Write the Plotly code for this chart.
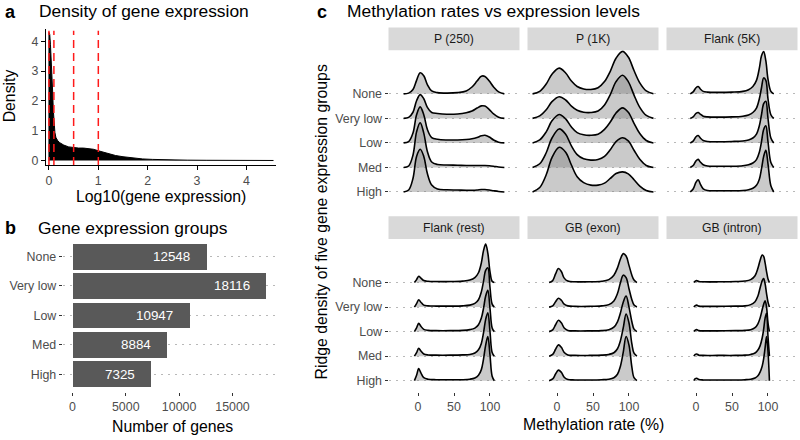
import plotly.graph_objects as go

W, H = 800, 440
FONT = "Liberation Sans, Arial, sans-serif"

# ---------------- Panel a: density of log10 gene expression ----------------
expr_log10 = [0, 0, 0.015, 0.03, 0.048, 0.062, 0.075, 0.088, 0.1, 0.12, 0.14, 0.18, 0.22, 0.3,
              0.4, 0.5, 0.6, 0.7, 0.8, 0.9, 1.0, 1.1, 1.2, 1.35, 1.5, 1.7, 1.9, 2.1, 2.4, 2.8,
              3.2, 3.6, 4.0, 4.55]
expr_density = [0, 4.3, 4.25, 3.9, 3.4, 2.9, 2.3, 1.7, 1.25, 0.95, 0.78, 0.66, 0.6, 0.52,
                0.46, 0.43, 0.42, 0.42, 0.41, 0.38, 0.33, 0.28, 0.23, 0.17, 0.13, 0.085, 0.055,
                0.04, 0.025, 0.015, 0.01, 0.008, 0.006, 0.004]
thresholds = [0, 0.1, 0.5, 1.0]
a_xticks = [0, 1, 2, 3, 4]
a_yticks = [0, 1, 2, 3, 4]

# ---------------- Panel b: gene expression groups ----------------
groups = ["None", "Very low", "Low", "Med", "High"]
gene_counts = [12548, 18116, 10947, 8884, 7325]
b_xticks = [0, 5000, 10000, 15000]

# ---------------- Panel c: ridge densities of methylation rate ----------------
regions = ["P (250)", "P (1K)", "Flank (5K)", "Flank (rest)", "GB (exon)", "GB (intron)"]
group_rank = [4, 3, 2, 1, 0]          # ridge position: None on top, High at bottom
c_xticks = [0, 50, 100]

p250_x = [-20, -13, -7, -2, 3, 8, 13, 19, 27, 40, 55, 67, 75, 82, 88, 93, 99, 105, 112, 120]
p250_none = [0.0, 0.03, 0.18, 0.55, 0.86, 0.74, 0.38, 0.12, 0.05, 0.03, 0.05, 0.12, 0.28, 0.52, 0.72, 0.71, 0.52, 0.28, 0.08, 0.0]
p250_verylow = [0.0, 0.04, 0.25, 0.72, 0.97, 0.8, 0.45, 0.24, 0.2, 0.17, 0.18, 0.23, 0.3, 0.42, 0.51, 0.5, 0.36, 0.18, 0.05, 0.0]
p250_low = [0.0, 0.05, 0.4, 1.15, 1.47, 1.15, 0.55, 0.22, 0.15, 0.12, 0.12, 0.14, 0.17, 0.22, 0.29, 0.31, 0.24, 0.12, 0.03, 0.0]
p250_med = [0.0, 0.06, 0.5, 1.45, 1.82, 1.4, 0.65, 0.22, 0.12, 0.1, 0.09, 0.08, 0.08, 0.08, 0.08, 0.08, 0.07, 0.05, 0.02, 0.0]
p250_high = [0.0, 0.08, 0.55, 1.45, 1.74, 1.45, 0.75, 0.28, 0.12, 0.09, 0.08, 0.07, 0.07, 0.08, 0.1, 0.1, 0.08, 0.05, 0.02, 0.0]

p1k_x = [-34, -24, -15, -7, 3, 12, 20, 28, 37, 47, 57, 66, 74, 82, 91, 99, 107, 115, 124, 134]
p1k_none = [0.0, 0.1, 0.4, 0.8, 1.05, 0.85, 0.52, 0.3, 0.2, 0.18, 0.25, 0.5, 0.92, 1.45, 1.73, 1.5, 0.95, 0.45, 0.12, 0.0]
p1k_verylow = [0.0, 0.1, 0.35, 0.68, 0.88, 0.75, 0.5, 0.33, 0.25, 0.24, 0.3, 0.55, 0.97, 1.5, 1.76, 1.5, 0.95, 0.45, 0.12, 0.0]
p1k_low = [0.0, 0.12, 0.45, 0.9, 1.16, 0.98, 0.65, 0.42, 0.33, 0.31, 0.35, 0.55, 0.85, 1.22, 1.43, 1.25, 0.8, 0.38, 0.1, 0.0]
p1k_med = [0.0, 0.15, 0.6, 1.2, 1.57, 1.35, 0.88, 0.52, 0.35, 0.3, 0.32, 0.45, 0.72, 1.05, 1.21, 1.08, 0.7, 0.33, 0.08, 0.0]
p1k_high = [0.0, 0.18, 0.7, 1.4, 1.82, 1.62, 1.1, 0.62, 0.38, 0.28, 0.28, 0.36, 0.55, 0.75, 0.82, 0.74, 0.5, 0.24, 0.06, 0.0]

f5k_x = [-8, -4, 0, 3, 6, 10, 16, 30, 50, 65, 73, 79, 84, 88, 91, 94, 97, 100, 104, 108]
f5k_none = [0.0, 0.08, 0.25, 0.3, 0.2, 0.1, 0.07, 0.06, 0.07, 0.1, 0.17, 0.3, 0.55, 1.05, 1.55, 1.72, 1.35, 0.6, 0.1, 0.0]
f5k_verylow = [0.0, 0.06, 0.2, 0.24, 0.17, 0.09, 0.06, 0.05, 0.06, 0.09, 0.14, 0.24, 0.42, 0.8, 1.25, 1.65, 1.55, 0.8, 0.15, 0.0]
f5k_low = [0.0, 0.07, 0.25, 0.3, 0.2, 0.1, 0.06, 0.05, 0.06, 0.08, 0.12, 0.2, 0.36, 0.7, 1.15, 1.6, 1.7, 1.0, 0.2, 0.0]
f5k_med = [0.0, 0.08, 0.27, 0.33, 0.22, 0.11, 0.06, 0.05, 0.05, 0.07, 0.11, 0.18, 0.32, 0.62, 1.05, 1.55, 1.7, 1.05, 0.2, 0.0]
f5k_high = [0.0, 0.12, 0.4, 0.5, 0.32, 0.13, 0.06, 0.05, 0.05, 0.06, 0.09, 0.15, 0.27, 0.52, 0.95, 1.45, 1.7, 1.15, 0.25, 0.0]

frest_x = [-5, -2, 1, 4, 8, 14, 25, 45, 62, 72, 79, 84, 88, 91, 94, 97, 100, 103, 106]
frest_none = [0.0, 0.12, 0.26, 0.18, 0.08, 0.05, 0.04, 0.04, 0.06, 0.1, 0.2, 0.4, 0.8, 1.3, 1.57, 1.2, 0.45, 0.05, 0.0]
frest_verylow = [0.0, 0.14, 0.3, 0.2, 0.08, 0.05, 0.04, 0.04, 0.05, 0.08, 0.15, 0.3, 0.62, 1.05, 1.5, 1.6, 0.8, 0.12, 0.0]
frest_low = [0.0, 0.15, 0.34, 0.22, 0.09, 0.05, 0.04, 0.04, 0.05, 0.08, 0.14, 0.28, 0.55, 0.95, 1.45, 1.68, 0.95, 0.15, 0.0]
frest_med = [0.0, 0.14, 0.32, 0.21, 0.09, 0.05, 0.04, 0.04, 0.05, 0.07, 0.13, 0.26, 0.52, 0.95, 1.5, 1.77, 1.0, 0.15, 0.0]
frest_high = [0.0, 0.22, 0.49, 0.32, 0.12, 0.06, 0.04, 0.04, 0.04, 0.06, 0.11, 0.22, 0.45, 0.88, 1.45, 1.8, 1.05, 0.18, 0.0]

exon_x = [-11, -6, -2, 2, 6, 10, 15, 25, 45, 62, 72, 79, 84, 88, 92, 96, 100, 104, 107, 111]
exon_none = [0.0, 0.08, 0.35, 0.57, 0.45, 0.18, 0.06, 0.03, 0.03, 0.05, 0.12, 0.3, 0.6, 0.95, 1.18, 1.08, 0.7, 0.3, 0.1, 0.0]
exon_verylow = [0.0, 0.05, 0.22, 0.36, 0.28, 0.12, 0.05, 0.03, 0.03, 0.05, 0.1, 0.25, 0.55, 0.98, 1.3, 1.2, 0.75, 0.3, 0.08, 0.0]
exon_low = [0.0, 0.07, 0.28, 0.46, 0.36, 0.15, 0.05, 0.03, 0.03, 0.04, 0.08, 0.18, 0.4, 0.75, 1.2, 1.45, 1.0, 0.4, 0.1, 0.0]
exon_med = [0.0, 0.07, 0.28, 0.46, 0.36, 0.15, 0.05, 0.03, 0.03, 0.04, 0.07, 0.14, 0.3, 0.62, 1.15, 1.72, 1.35, 0.5, 0.12, 0.0]
exon_high = [0.0, 0.07, 0.27, 0.43, 0.34, 0.14, 0.05, 0.03, 0.03, 0.04, 0.06, 0.12, 0.26, 0.58, 1.15, 1.8, 1.45, 0.55, 0.12, 0.0]

intron_x = [-3, -1, 1, 4, 10, 30, 55, 68, 76, 82, 86, 89, 92, 94, 96, 98, 100, 102]
intron_none = [0.0, 0.06, 0.08, 0.04, 0.03, 0.03, 0.04, 0.06, 0.12, 0.28, 0.58, 0.9, 1.12, 1.07, 0.8, 0.45, 0.15, 0.0]
intron_verylow = [0.0, 0.06, 0.08, 0.04, 0.03, 0.03, 0.04, 0.05, 0.1, 0.22, 0.45, 0.78, 1.08, 1.16, 0.95, 0.55, 0.2, 0.0]
intron_low = [0.0, 0.06, 0.08, 0.04, 0.03, 0.03, 0.04, 0.05, 0.08, 0.16, 0.32, 0.55, 0.9, 1.12, 1.26, 1.0, 0.35, 0.0]
intron_med = [0.0, 0.07, 0.09, 0.04, 0.03, 0.03, 0.03, 0.04, 0.07, 0.13, 0.25, 0.42, 0.75, 1.1, 1.55, 1.75, 0.8, 0.0]
intron_high = [0.0, 0.08, 0.1, 0.05, 0.03, 0.03, 0.03, 0.04, 0.06, 0.11, 0.2, 0.35, 0.6, 0.9, 1.35, 1.8, 1.2, 0.0]

ridge_x = [p250_x, p1k_x, f5k_x, frest_x, exon_x, intron_x]
ridge_h = [
    [p250_none, p250_verylow, p250_low, p250_med, p250_high],
    [p1k_none, p1k_verylow, p1k_low, p1k_med, p1k_high],
    [f5k_none, f5k_verylow, f5k_low, f5k_med, f5k_high],
    [frest_none, frest_verylow, frest_low, frest_med, frest_high],
    [exon_none, exon_verylow, exon_low, exon_med, exon_high],
    [intron_none, intron_verylow, intron_low, intron_med, intron_high],
]

# ---------------- figure ----------------
fig = go.Figure()

def px_x(v):
    return v / W

def px_y(v):
    return 1 - v / H

TICKFONT = dict(family=FONT, size=12.4, color="#4d4d4d")

# Panel a
fig.add_trace(go.Scatter(x=expr_log10, y=expr_density, mode="lines", fill="tozeroy",
                         fillcolor="black", line=dict(color="black", width=1),
                         xaxis="x", yaxis="y", hoverinfo="skip", showlegend=False))
for t in thresholds:
    fig.add_shape(type="line", xref="x", yref="y domain", x0=t, x1=t, y0=0, y1=0.985,
                  line=dict(color="#ff1a1a", width=1.5, dash="8px,5px"))

# Panel b
fig.add_trace(go.Bar(x=gene_counts, y=groups, orientation="h", width=0.88,
                     marker=dict(color="#595959", line=dict(width=0)),
                     xaxis="x2", yaxis="y2", hoverinfo="skip", showlegend=False))

# Panel c
for i, reg in enumerate(regions):
    n = i + 3
    xs = ridge_x[i]
    for k, g in enumerate(groups):
        base = group_rank[k]
        hs = ridge_h[i][k]
        fig.add_trace(go.Scatter(x=[xs[0], xs[-1]], y=[base, base], mode="lines",
                                 line=dict(width=0, color="rgba(0,0,0,0)"),
                                 xaxis=f"x{n}", yaxis=f"y{n}", hoverinfo="skip", showlegend=False))
        fig.add_trace(go.Scatter(x=xs, y=[base + h for h in hs], mode="lines",
                                 line=dict(color="black", width=1.6, shape="spline", smoothing=1),
                                 fill="tonexty", fillcolor="rgba(128,128,128,0.42)",
                                 xaxis=f"x{n}", yaxis=f"y{n}", hoverinfo="skip", showlegend=False))

layout = dict(
    width=W, height=H, margin=dict(l=0, r=0, t=0, b=0),
    paper_bgcolor="white", plot_bgcolor="white", hovermode=False,
    font=dict(family=FONT, color="black"),
    bargap=0,
)

# axes panel a
layout["xaxis"] = dict(domain=[px_x(46), px_x(276)], range=[-0.06, 4.6], tickvals=a_xticks,
                       ticks="outside", ticklen=4, tickcolor="black", showline=True,
                       linecolor="black", linewidth=1, showgrid=False, zeroline=False,
                       tickfont=TICKFONT, anchor="y", fixedrange=True)
layout["yaxis"] = dict(domain=[px_y(166.2), px_y(29)], range=[-0.15, 4.42], tickvals=a_yticks,
                       ticks="outside", ticklen=4, tickcolor="black", showline=True,
                       linecolor="black", linewidth=1, showgrid=False, zeroline=False,
                       tickfont=TICKFONT, anchor="x", fixedrange=True)
# axes panel b
layout["xaxis2"] = dict(domain=[px_x(62.7), px_x(275.4)], range=[-906, 19022], tickvals=b_xticks,
                        ticktext=[str(v) for v in b_xticks], ticks="outside", ticklen=3,
                        tickcolor="#333333", showline=False, showgrid=False, zeroline=False,
                        tickfont=TICKFONT, anchor="y2", fixedrange=True)
layout["yaxis2"] = dict(domain=[px_y(394.5), px_y(240.5)], type="category",
                        categoryorder="array", categoryarray=groups, range=[4.6, -0.6],
                        ticks="outside", ticklen=3, tickcolor="#333333", showline=False,
                        showgrid=True, gridcolor="#b8b8b8", gridwidth=1, griddash="2px,5px",
                        zeroline=False, tickfont=TICKFONT, anchor="x2", fixedrange=True)

# axes panel c
col_px = [(388.5, 519.5), (527.5, 658.5), (666.5, 797.5)]
row_px = [(50.7, 205.0), (240.7, 395.0)]
strip_h = 23.0
for i in range(6):
    n = i + 3
    r, c = divmod(i, 3)
    x0, x1 = col_px[c]
    y0, y1 = row_px[r]
    layout[f"xaxis{n}"] = dict(domain=[px_x(x0), px_x(x1)], range=[-41, 141], tickvals=c_xticks,
                               ticks="outside" if r == 1 else "", ticklen=3, tickcolor="#333333",
                               showticklabels=(r == 1), showline=False, showgrid=False,
                               zeroline=False, tickfont=TICKFONT, anchor=f"y{n}", fixedrange=True)
    layout[f"yaxis{n}"] = dict(domain=[px_y(y1), px_y(y0)], range=[-0.474, 5.773],
                               tickvals=group_rank, ticktext=groups,
                               ticks="outside" if c == 0 else "", ticklen=3, tickcolor="#333333",
                               showticklabels=(c == 0), showline=False, showgrid=True,
                               gridcolor="#b8b8b8", gridwidth=1, griddash="2px,5px",
                               zeroline=False, tickfont=TICKFONT, anchor=f"x{n}", fixedrange=True)

shapes = []
annotations = []
for i, reg in enumerate(regions):
    r, c = divmod(i, 3)
    x0, x1 = col_px[c]
    y0 = row_px[r][0]
    shapes.append(dict(type="rect", xref="paper", yref="paper", x0=px_x(x0), x1=px_x(x1),
                       y0=px_y(y0), y1=px_y(y0 - strip_h), fillcolor="#d9d9d9",
                       line=dict(width=0), layer="below"))
    annotations.append(dict(text=reg, xref="paper", yref="paper", x=px_x((x0 + x1) / 2),
                            y=px_y(y0 - strip_h / 2), xanchor="center", yanchor="middle",
                            showarrow=False, font=dict(family=FONT, size=12.2, color="#1a1a1a")))

# bar value labels, anchored at each bar's value on the panel-b axes
for g, v in zip(groups, gene_counts):
    annotations.append(dict(text=str(v), xref="x2", yref="y2", x=v, y=g, xanchor="right",
                            yanchor="middle", xshift=-14, showarrow=False,
                            font=dict(family=FONT, size=13.4, color="white")))

def label(text, x, y, size, xanchor="left", angle=0, bold=False, color="black"):
    annotations.append(dict(text=f"<b>{text}</b>" if bold else text, xref="paper", yref="paper",
                            x=px_x(x), y=px_y(y), xanchor=xanchor, yanchor="middle",
                            showarrow=False, textangle=angle,
                            font=dict(family=FONT, size=size, color=color)))

# panel titles
label("a", 3, 12, 18, bold=True)
label("Density of gene expression", 37, 11, 17.4)
label("b", 3, 230, 18, bold=True)
label("Gene expression groups", 36, 230, 17.4)
label("c", 315, 12, 18, bold=True)
label("Methylation rates vs expression levels", 345, 11, 17.4)
# axis titles
label("Density", 9, 97, 15.8, xanchor="center", angle=-90)
label("Log10(gene expression)", 161, 198, 15.8, xanchor="center")
label("Number of genes", 172, 429, 15.8, xanchor="center")
label("Methylation rate (%)", 593, 427, 15.8, xanchor="center")
label("Ridge density of five gene expression groups", 321, 224, 15.8, xanchor="center", angle=-90)

layout["shapes"] = list(fig.layout.shapes) + shapes
layout["annotations"] = annotations
fig.update_layout(**layout)

fig.write_html("out.html", config={"displayModeBar": False},
               post_script="document.body.style.margin='0';document.body.style.overflow='hidden';")
